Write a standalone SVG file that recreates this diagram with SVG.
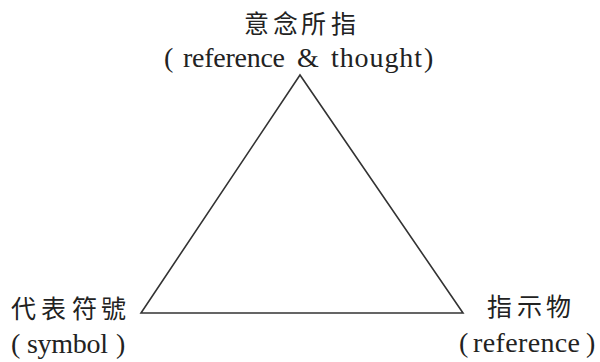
<svg xmlns="http://www.w3.org/2000/svg" width="600" height="362" viewBox="0 0 600 362">
<style>
.cjk{font-size:25px;fill:#222}
.lat{font-size:28px;fill:#222}
.edge{fill:none;stroke:#333;stroke-width:1.6;stroke-linejoin:miter}
</style>
<rect width="600" height="362" fill="#fff"/>
<g id="connectors">
<polygon class="edge" points="300,75 141,313 463,313"/>
</g>
<g id="node-thought">
<text class="cjk" style="font-family:'Noto Sans CJK TC'" x="244 273 301 331" y="33">意念所指</text>
<text class="lat" style="font-family:'Liberation Serif'" y="67"><tspan x="164">(</tspan><tspan x="183" textLength="102">reference</tspan><tspan x="297">&amp;</tspan><tspan x="331" textLength="91">thought</tspan><tspan x="424">)</tspan></text>
</g>
<g id="node-symbol">
<text class="cjk" style="font-family:'Noto Sans CJK TC'" x="11 41 72 101" y="318">代表符號</text>
<text class="lat" style="font-family:'Liberation Serif'" y="353"><tspan x="11">(</tspan><tspan x="27" textLength="81">symbol</tspan><tspan x="116">)</tspan></text>
</g>
<g id="node-referent">
<text class="cjk" style="font-family:'Noto Sans CJK TC'" x="487 517 546" y="316">指示物</text>
<text class="lat" style="font-family:'Liberation Serif'" y="352"><tspan x="459">(</tspan><tspan x="473" textLength="107">reference</tspan><tspan x="586">)</tspan></text>
</g>
</svg>
